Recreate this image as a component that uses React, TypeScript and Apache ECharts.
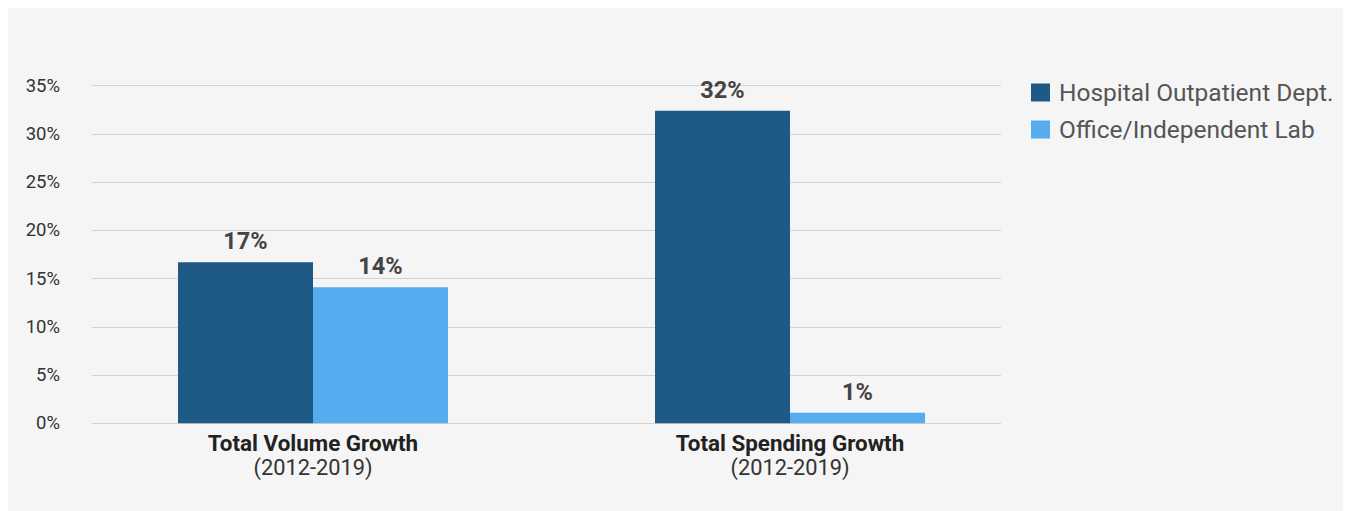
import React, { useEffect, useRef } from "react";
import * as echarts from "echarts";

const categories = ["Total Volume Growth", "Total Spending Growth"];
const periods = ["(2012-2019)", "(2012-2019)"];
const seriesNames = ["Hospital Outpatient Dept.", "Office/Independent Lab"];
const hospitalValues = [16.7, 32.4];
const officeValues = [14.1, 1.1];
const colors = ["#1e5a85", "#55acee"];

export default function App() {
  const ref = useRef<HTMLDivElement>(null);
  useEffect(() => {
    if (!ref.current) return;
    const chart = echarts.init(ref.current, null, { renderer: "svg" });
    const top = 77.7;
    const height = 337.6;
    const labelCfg = {
      show: true,
      position: "top",
      distance: 9,
      fontFamily: "Roboto",
      fontSize: 23.5,
      fontWeight: "bold",
      color: "#444444",
      formatter: (p: any) => Math.round(p.value) + "%",
    };
    chart.setOption({
      animation: false,
      backgroundColor: "#f5f5f5",
      textStyle: { fontFamily: "Roboto" },
      legend: {
        orient: "vertical",
        left: 1023,
        top: 72,
        padding: 0,
        itemWidth: 19,
        itemHeight: 18,
        itemGap: 12,
        icon: "rect",
        data: seriesNames,
        textStyle: {
          fontFamily: "Roboto",
          fontSize: 24.5,
          color: "#555555",
          padding: [0, 0, 0, 4],
        },
      },
      grid: [
        { left: 84, width: 909, top, height },
        { left: 66.5, width: 954, top, height },
      ],
      xAxis: [
        {
          type: "category",
          gridIndex: 0,
          data: categories,
          show: false,
        },
        {
          type: "category",
          gridIndex: 1,
          data: categories,
          axisLine: { show: false },
          axisTick: { show: false },
          axisLabel: {
            margin: 7,
            lineHeight: 25,
            formatter: (v: string, i: number) => `{b|${v}}\n{n|${periods[i]}}`,
            rich: {
              b: {
                fontFamily: "Roboto",
                fontSize: 22.4,
                fontWeight: "bold",
                color: "#222222",
                lineHeight: 25,
              },
              n: {
                fontFamily: "Roboto",
                fontSize: 21.8,
                color: "#333333",
                lineHeight: 25,
              },
            },
          },
        },
      ],
      yAxis: [
        {
          type: "value",
          gridIndex: 0,
          min: 0,
          max: 35,
          interval: 5,
          axisLine: { show: false },
          axisTick: { show: false },
          axisLabel: {
            margin: 32,
            fontFamily: "Roboto",
            fontSize: 18.5,
            color: "#333333",
            formatter: "{value}%",
          },
          splitLine: { lineStyle: { color: "#d3d3d3", width: 1 } },
        },
        {
          type: "value",
          gridIndex: 1,
          min: 0,
          max: 35,
          interval: 5,
          show: false,
          splitLine: { show: false },
        },
      ],
      series: [
        {
          name: seriesNames[0],
          type: "bar",
          xAxisIndex: 1,
          yAxisIndex: 1,
          data: hospitalValues,
          barWidth: 135,
          barGap: "0%",
          itemStyle: { color: colors[0] },
          label: labelCfg,
        },
        {
          name: seriesNames[1],
          type: "bar",
          xAxisIndex: 1,
          yAxisIndex: 1,
          data: officeValues,
          barWidth: 135,
          barGap: "0%",
          itemStyle: { color: colors[1] },
          label: labelCfg,
        },
      ],
    });
    return () => chart.dispose();
  }, []);
  return <div ref={ref} style={{ width: 1335, height: 503 }} />;
}
